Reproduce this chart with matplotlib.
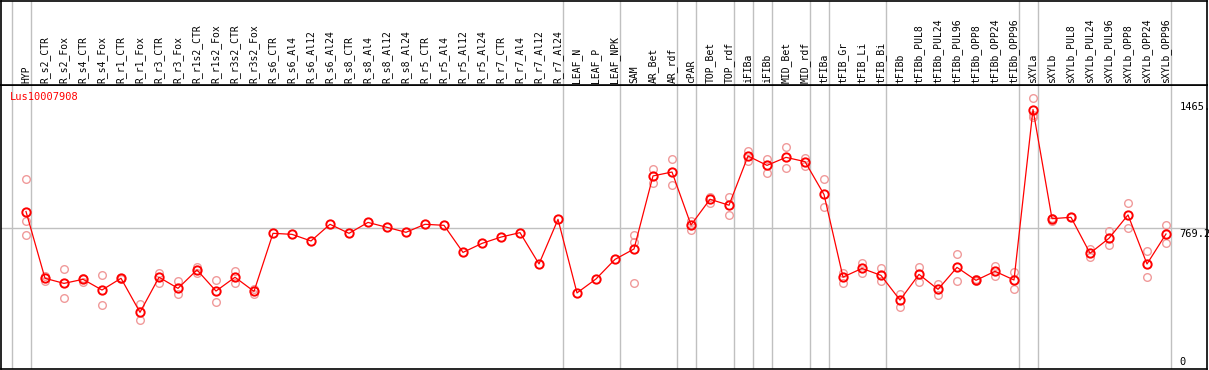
import numpy as np
import matplotlib
matplotlib.use("Agg")
import matplotlib.pyplot as plt
import matplotlib.transforms as mtransforms

gene = "Lus10007908"

samples = [
    "HYP", "R_s2_CTR", "R_s2_Fox", "R_s4_CTR", "R_s4_Fox", "R_r1_CTR", "R_r1_Fox",
    "R_r3_CTR", "R_r3_Fox", "R_r1s2_CTR", "R_r1s2_Fox", "R_r3s2_CTR", "R_r3s2_Fox",
    "R_s6_CTR", "R_s6_Al4", "R_s6_Al12", "R_s6_Al24", "R_s8_CTR", "R_s8_Al4",
    "R_s8_Al12", "R_s8_Al24", "R_r5_CTR", "R_r5_Al4", "R_r5_Al12", "R_r5_Al24",
    "R_r7_CTR", "R_r7_Al4", "R_r7_Al12", "R_r7_Al24", "LEAF_N", "LEAF_P", "LEAF_NPK",
    "SAM", "AR_Bet", "AR_rdf", "cPAR", "TOP_Bet", "TOP_rdf", "iFIBa", "iFIBb",
    "MID_Bet", "MID_rdf", "tFIBa", "tFIB_Gr", "tFIB_Li", "tFIB_Bi", "tFIBb",
    "tFIBb_PUL8", "tFIBb_PUL24", "tFIBb_PUL96", "tFIBb_OPP8", "tFIBb_OPP24",
    "tFIBb_OPP96", "sXYLa", "sXYLb", "sXYLb_PUL8", "sXYLb_PUL24", "sXYLb_PUL96",
    "sXYLb_OPP8", "sXYLb_OPP24", "sXYLb_OPP96",
]

# mean expression per sample
means = [
    866, 474, 444, 468, 405, 474, 274, 480, 415, 523, 399, 480, 397,
    738, 732, 693, 791, 738, 802, 773, 744, 791, 785, 626, 679, 716, 742, 558, 820,
    388, 470, 585,
    646, 1075, 1098, 787, 938, 903, 1192, 1137, 1184, 1159,
    966, 481, 532, 491, 346, 497, 409, 538, 462, 515, 464,
    1465, 824, 832, 621, 709, 846, 558, 734,
]

# individual replicates (empty = only the mean is shown)
reps = [
    [1057, 812, 728], [487, 460], [527, 356], [474, 455], [491, 317], [478, 470], [321, 229],
    [507, 448], [460, 380], [542, 503], [462, 335], [515, 444], [411, 384],
    [], [], [], [], [], [], [], [], [], [], [], [], [], [], [], [],
    [], [], [],
    [728, 689, 444], [1114, 1032], [1173, 1020], [812, 757], [953, 918], [953, 844],
    [1221, 1163], [1173, 1094], [1245, 1123], [1182, 1133],
    [1057, 891], [507, 444], [561, 507], [536, 460], [382, 307], [540, 450],
    [442, 374], [617, 456], [468, 458], [546, 486], [513, 409],
    [1531, 1430, 1420], [812, 830], [832], [644, 601], [752, 668], [916, 767],
    [632, 480], [785, 683],
]

# index of the last sample in each group
group_ends = [-1, 0, 28, 31, 34, 35, 37, 38, 39, 41, 42, 45, 52, 53, 60]

ref_value = 769.2
tick_labels = ["1465.", "769.2", "0"]
tick_values = [1465, 769.2, 0]

W, H = 1209, 370
fig = plt.figure(figsize=(W / 100, H / 100), dpi=100)
font = "DejaVu Sans Mono"
grey = "#c0c0c0"
pink = "#f09a9a"

xlim = ((1 - 26) / 19, (1207 - 26) / 19)

ax = fig.add_axes([1 / W, 1 / H, 1206 / W, 284 / H])
ax.set_xlim(*xlim)
ax.set_ylim((359 - 369) / 0.1703, (359 - 85) / 0.1703)
ax.set_xticks([])
ax.set_yticks([])
for s in ax.spines.values():
    s.set_linewidth(1.2)
    s.set_color("black")

lab = fig.add_axes([1 / W, 285 / H, 1206 / W, 84.5 / H])
lab.set_xlim(*xlim)
lab.set_ylim(0, 1)
lab.set_xticks([])
lab.set_yticks([])
for s in lab.spines.values():
    s.set_linewidth(1.2)
    s.set_color("black")

for g in group_ends:
    ax.axvline(g + 0.24, color=grey, lw=1, zorder=0)
    lab.axvline(g + 0.24, color=grey, lw=1, zorder=0)
ax.axhline(ref_value, color=grey, lw=1, zorder=0)

x = np.arange(len(samples))
for i, r in enumerate(reps):
    if r:
        ax.plot([i] * len(r), r, "o", mfc="none", mec=pink, ms=5.5, mew=1.0, zorder=1)

ax.plot(x, means, "-", color="red", lw=0.9, zorder=2)
ax.plot(x, means, "o", mfc="none", mec="red", ms=6, mew=1.4, zorder=3)

tr = mtransforms.blended_transform_factory(lab.transData, lab.transAxes)
for i, name in enumerate(samples):
    lab.text(i, 0.025, name, rotation=90, ha="center", va="bottom",
             fontsize=7, family=font, transform=tr)

ax.text(0.0075, 0.958, gene, color="red", fontsize=7.5, family=font,
        ha="left", va="center", transform=ax.transAxes)

ty = mtransforms.blended_transform_factory(ax.transAxes, ax.transData)
offsets = [2, -4.5, -2]
for lbl, v, dy in zip(tick_labels, tick_values, offsets):
    ax.annotate(lbl, xy=(1, v), xycoords=ty, xytext=(-20, dy),
                textcoords="offset points", ha="left", va="center",
                fontsize=7.5, family=font)

fig.savefig("out.png", dpi=100)
